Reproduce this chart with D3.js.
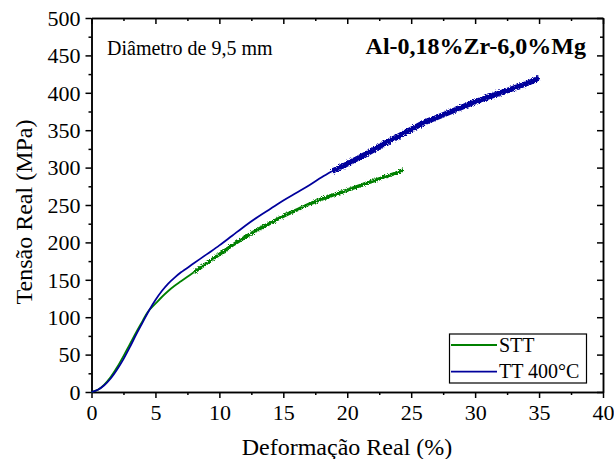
<!DOCTYPE html>
<html>
<head>
<meta charset="utf-8">
<script src="https://cdn.jsdelivr.net/npm/d3@7"></script>
<style>
  body { margin: 0; background: #fff; }
  text { font-family: "Liberation Serif", "Times New Roman", serif; fill: #000; }
  .axis path, .axis line { stroke: #000; stroke-width: 1.5; }
</style>
</head>
<body>
<div id="chart"></div>
<script>
// STT curve: smooth part, then the noisy part
var sttSmoothX = [0, 0.5, 1, 1.5, 2, 2.5, 3, 3.5, 4, 4.4, 5, 5.5, 6, 6.5, 7, 7.5, 8];
var sttSmoothY = [0, 3, 10, 20, 33, 48, 64, 80, 95, 107, 118, 127, 135, 142, 148, 154, 160];
var sttNoisyX = [8, 9, 10, 11, 12, 13, 14, 15, 16, 17, 18, 19, 20, 21, 22, 23, 24, 24.4];
var sttNoisyY = [160, 172, 184, 196, 207, 217, 226, 235, 243, 251, 258, 264, 270, 276, 282, 288, 294, 297];

// TT 400°C curve
var ttSmoothX = [0, 0.5, 1, 1.5, 2, 2.5, 3, 3.5, 4, 4.5, 5, 5.5, 6, 6.5, 7, 8, 9, 10, 11, 12, 13, 14, 15, 16, 17, 18, 18.8];
var ttSmoothY = [0, 3, 9, 18, 30, 44, 60, 77, 93, 109, 123, 135, 145, 153, 160, 172, 184, 196, 209, 222, 234, 245, 256, 266, 276, 287, 295];
var ttNoisyX = [18.8, 20, 21, 22, 23, 24, 25, 26, 27, 28, 29, 30, 31, 32, 33, 34, 35];
var ttNoisyY = [295, 305, 314, 323, 333, 342, 351, 360, 367, 374, 381, 388, 394, 400, 406, 412, 420];

var xTicks = [0, 5, 10, 15, 20, 25, 30, 35, 40];
var yTicks = [0, 50, 100, 150, 200, 250, 300, 350, 400, 450, 500];
var seriesNames = ["STT", "TT 400°C"];
var seriesColors = ["#008000", "#00009c"];

var svgWidth = 614;
var svgHeight = 459;
var margin = { top: 18, right: 11, bottom: 67, left: 91.5 };
var chartWidth = svgWidth - margin.left - margin.right;
var chartHeight = svgHeight - margin.top - margin.bottom;

var svg = d3.select("#chart")
    .append("svg")
    .attr("width", svgWidth)
    .attr("height", svgHeight);

// filter to roughen the noisy part of the curves
var defs = svg.append("defs");
var filt = defs.append("filter").attr("id", "rough")
    .attr("x", "-5%").attr("y", "-5%").attr("width", "110%").attr("height", "110%");
filt.append("feTurbulence").attr("type", "fractalNoise")
    .attr("baseFrequency", 0.8).attr("numOctaves", 2).attr("seed", 3).attr("result", "n");
filt.append("feDisplacementMap").attr("in", "SourceGraphic").attr("in2", "n")
    .attr("scale", 4).attr("xChannelSelector", "R").attr("yChannelSelector", "G");

var chartGroup = svg.append("g")
    .attr("transform", `translate(${margin.left}, ${margin.top})`);

var x = d3.scaleLinear().domain([0, 40]).range([0, chartWidth]);
var y = d3.scaleLinear().domain([0, 500]).range([chartHeight, 0]);

var xMinor = d3.range(0, 40.01, 2.5).filter(v => v % 5 !== 0);
var yMinor = d3.range(0, 500.01, 25).filter(v => v % 50 !== 0);

// minor ticks
chartGroup.append("g").attr("class", "axis")
    .attr("transform", `translate(0, ${chartHeight})`)
    .call(d3.axisBottom(x).tickValues(xMinor).tickSize(3).tickFormat("").tickSizeOuter(0));
chartGroup.append("g").attr("class", "axis")
    .call(d3.axisBottom(x).tickValues(xMinor).tickSize(3).tickFormat("").tickSizeOuter(0));
chartGroup.append("g").attr("class", "axis")
    .call(d3.axisLeft(y).tickValues(yMinor).tickSize(3).tickFormat("").tickSizeOuter(0));
chartGroup.append("g").attr("class", "axis")
    .attr("transform", `translate(${chartWidth}, 0)`)
    .call(d3.axisLeft(y).tickValues(yMinor).tickSize(3).tickFormat("").tickSizeOuter(0));

// major ticks
var bottomAxis = chartGroup.append("g").attr("class", "axis")
    .attr("transform", `translate(0, ${chartHeight})`)
    .call(d3.axisBottom(x).tickValues(xTicks).tickSize(6).tickSizeOuter(0).tickPadding(6));
var leftAxis = chartGroup.append("g").attr("class", "axis")
    .call(d3.axisLeft(y).tickValues(yTicks).tickSize(6).tickSizeOuter(0).tickPadding(5));
chartGroup.append("g").attr("class", "axis")
    .call(d3.axisBottom(x).tickValues(xTicks).tickSize(6).tickFormat("").tickSizeOuter(0));
chartGroup.append("g").attr("class", "axis")
    .attr("transform", `translate(${chartWidth}, 0)`)
    .call(d3.axisLeft(y).tickValues(yTicks).tickSize(6).tickFormat("").tickSizeOuter(0));

bottomAxis.selectAll("text").style("font-size", "22px").style("font-family", "Liberation Serif");
leftAxis.selectAll("text").style("font-size", "22px").style("font-family", "Liberation Serif")
    .attr("dy", "0.33em");

// curves
var line = d3.line().x(d => x(d[0])).y(d => y(d[1])).curve(d3.curveCatmullRom);
var curves = [
    { smooth: d3.zip(sttSmoothX, sttSmoothY), noisy: d3.zip(sttNoisyX, sttNoisyY), w: 3.5 },
    { smooth: d3.zip(ttSmoothX, ttSmoothY), noisy: d3.zip(ttNoisyX, ttNoisyY), w: 5.5 }
];
curves.forEach((c, i) => {
    chartGroup.append("path")
        .attr("d", line(c.smooth))
        .attr("fill", "none")
        .attr("stroke", seriesColors[i])
        .attr("stroke-width", 1.8);
    chartGroup.append("path")
        .attr("d", line(c.noisy))
        .attr("fill", "none")
        .attr("stroke", seriesColors[i])
        .attr("stroke-width", c.w)
        .attr("filter", "url(#rough)");
});

// annotations
svg.append("text")
    .attr("x", 107)
    .attr("y", 55)
    .style("font-size", "20px")
    .text("Diâmetro de 9,5 mm");

svg.append("text")
    .attr("x", 586)
    .attr("y", 54)
    .attr("text-anchor", "end")
    .style("font-size", "24px")
    .style("font-weight", "bold")
    .text("Al-0,18%Zr-6,0%Mg");

// legend
var legend = svg.append("g");
legend.append("rect")
    .attr("x", 449.5).attr("y", 334)
    .attr("width", 137).attr("height", 49)
    .attr("fill", "#fff").attr("stroke", "#000").attr("stroke-width", 1.2);
seriesNames.forEach((name, i) => {
    var ly = 345 + i * 26.7;
    legend.append("line")
        .attr("x1", 451).attr("x2", 497)
        .attr("y1", ly).attr("y2", ly)
        .attr("stroke", seriesColors[i]).attr("stroke-width", 1.8);
    legend.append("text")
        .attr("x", 499).attr("y", ly + 6.5)
        .style("font-size", "20px")
        .text(name);
});

// axis labels
svg.append("text")
    .attr("x", 347)
    .attr("y", 455)
    .attr("text-anchor", "middle")
    .style("font-size", "24px")
    .text("Deformação Real (%)");

svg.append("text")
    .attr("transform", "translate(32, 212) rotate(-90)")
    .attr("text-anchor", "middle")
    .style("font-size", "24px")
    .text("Tensão Real (MPa)");
</script>
</body>
</html>
